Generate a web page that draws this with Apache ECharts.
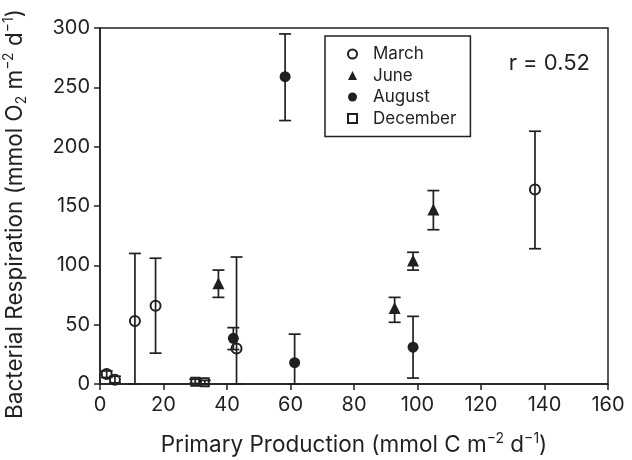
<!DOCTYPE html>
<html>
<head>
<meta charset="utf-8">
<script src="https://cdn.jsdelivr.net/npm/echarts@6/dist/echarts.min.js"></script>
<style>
  html, body { margin: 0; padding: 0; background: #fff; }
  #chart { width: 632px; height: 460px; }
</style>
</head>
<body>
<div id="chart"></div>
<script>
// [primary production, respiration, error low, error high]
const march = [[2.1, 8.4, 5.5, 11], [4.7, 3.6, 1, 6.5], [11, 53, 0, 110], [17.5, 66, 26, 106], [43, 30, 0, 107], [137, 164, 114, 213]]
const june = [[37.3, 85, 73, 96], [92.8, 64, 52, 73], [98.6, 104, 96, 111], [105, 147, 130, 163]]
const august = [[58.3, 259, 222, 295], [42, 38.5, 29, 47.5], [61.3, 18, 0, 42], [98.6, 31, 5, 57]]
const december = [[30, 2, 0.5, 4], [33, 1.5, 0, 3]]
const seasonNames = ['March', 'June', 'August', 'December']
const xTicks = [0, 160, 20]
const yTicks = [0, 300, 50]

const ink = '#231f20'
const font = "Inter, 'Liberation Sans', Arial, sans-serif"

const chart = echarts.init(document.getElementById('chart'))

// error bar with caps, drawn through the axis scales
const errorBars = (data) => ({
    type: 'custom',
    silent: true,
    z: 1,
    data: data.map(d => [d[0], d[2], d[3]]),
    encode: { x: 0, y: [1, 2] },
    renderItem: (params, api) => {
        const lo = api.coord([api.value(0), api.value(1)])
        const hi = api.coord([api.value(0), api.value(2)])
        const w = 6
        const style = { stroke: ink, lineWidth: 1.7 }
        return {
            type: 'group',
            children: [
                { type: 'line', shape: { x1: lo[0], y1: lo[1], x2: hi[0], y2: hi[1] }, style },
                { type: 'line', shape: { x1: hi[0] - w, y1: hi[1], x2: hi[0] + w, y2: hi[1] }, style },
                { type: 'line', shape: { x1: lo[0] - w, y1: lo[1], x2: lo[0] + w, y2: lo[1] }, style }
            ]
        }
    }
})

const points = (name, data, symbol, size, filled) => ({
    name,
    type: 'scatter',
    z: 3,
    symbol,
    symbolSize: size,
    data: data.map(d => [d[0], d[1]]),
    itemStyle: filled
        ? { color: ink, borderColor: ink, borderWidth: 0, opacity: 1 }
        : { color: 'rgba(255,255,255,0)', borderColor: ink, borderWidth: 2, opacity: 1 }
})

const supStyle = { fontSize: 14, verticalAlign: 'top', lineHeight: 27, fontFamily: font, color: ink }
const subStyle = { fontSize: 14, verticalAlign: 'bottom', lineHeight: 27, fontFamily: font, color: ink }

const option = {
    animation: false,
    textStyle: { fontFamily: font, color: ink },
    grid: {
        left: 100,
        right: 24,
        top: 28,
        bottom: 76,
        outerBoundsMode: 'none',
        containLabel: false,
        show: true,
        borderColor: ink,
        borderWidth: 1.5
    },
    xAxis: {
        type: 'value',
        min: xTicks[0],
        max: xTicks[1],
        interval: xTicks[2],
        name: 'Primary Production (mmol C m{sup|−2} d{sup|−1})',
        nameLocation: 'middle',
        nameGap: 48,
        nameTextStyle: {
            fontFamily: font,
            fontSize: 22.5,
            color: ink,
            lineHeight: 27,
            rich: { sup: supStyle }
        },
        axisLine: { lineStyle: { color: ink, width: 1.5 } },
        axisTick: { length: 6, lineStyle: { color: ink, width: 1.5 } },
        axisLabel: { fontSize: 20, color: ink, margin: 11, fontFamily: font },
        splitLine: { show: false }
    },
    yAxis: {
        type: 'value',
        min: yTicks[0],
        max: yTicks[1],
        interval: yTicks[2],
        name: 'Bacterial Respiration (mmol O{sub|2} m{sup|−2} d{sup|−1})',
        nameLocation: 'middle',
        nameGap: 71,
        nameTextStyle: {
            fontFamily: font,
            fontSize: 22.5,
            color: ink,
            lineHeight: 27,
            // pushes the rotated title a little down, as in the original
            padding: [0, 16, 0, 0],
            rich: { sup: supStyle, sub: subStyle }
        },
        axisLine: { show: true, lineStyle: { color: ink, width: 1.5 } },
        axisTick: { show: true, length: 6, lineStyle: { color: ink, width: 1.5 } },
        axisLabel: { fontSize: 20, color: ink, margin: 10, fontFamily: font },
        splitLine: { show: false }
    },
    legend: {
        data: seasonNames,
        orient: 'vertical',
        left: 325,
        top: 36,
        padding: [9, 14, 9, 22],
        borderColor: ink,
        borderWidth: 1.5,
        itemWidth: 9,
        itemHeight: 9,
        itemGap: 3.5,
        selectedMode: false,
        textStyle: { fontSize: 17, color: ink, lineHeight: 18, fontFamily: font, padding: [0, 0, 0, 11] }
    },
    graphic: [{
        type: 'text',
        right: 42,
        top: 52,
        style: { text: 'r = 0.52', fontSize: 22, fill: ink, fontFamily: font }
    }],
    series: [
        errorBars(march),
        errorBars(june),
        errorBars(august),
        errorBars(december),
        points(seasonNames[0], march, 'circle', 10, false),
        points(seasonNames[1], june, 'triangle', 12, true),
        points(seasonNames[2], august, 'circle', 11, true),
        points(seasonNames[3], december, 'rect', 8, false)
    ]
}

chart.setOption(option)
</script>
</body>
</html>
